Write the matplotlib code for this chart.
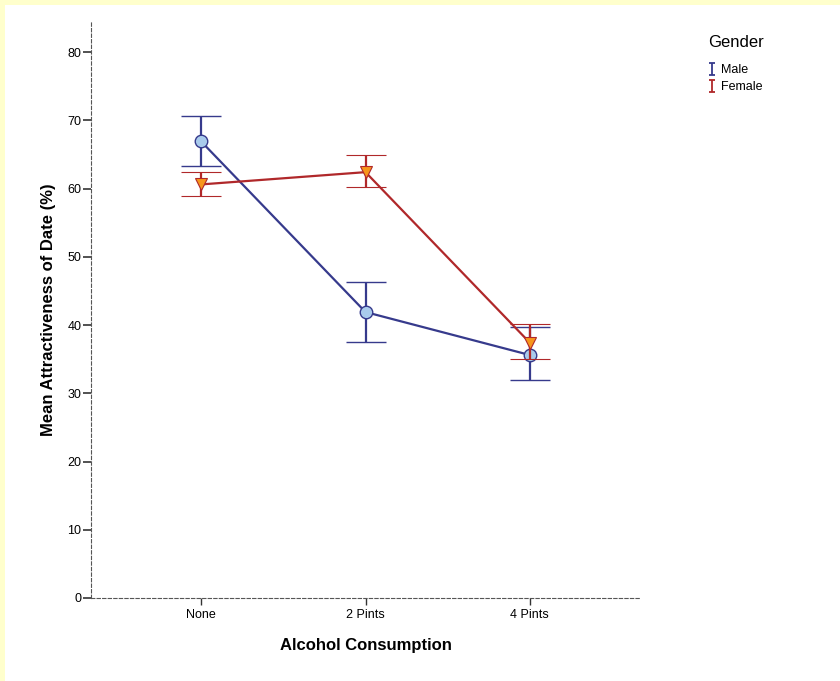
import matplotlib
matplotlib.use("Agg")
import matplotlib.pyplot as plt
from matplotlib.lines import Line2D
from matplotlib.patches import Rectangle
from matplotlib.path import Path

plt.rcParams['font.family'] = ['Liberation Sans', 'DejaVu Sans']

categories = ["None", "2 Pints", "4 Pints"]
male_mean = [66.9, 41.9, 35.6]
male_low = [63.3, 37.5, 31.9]
male_high = [70.6, 46.3, 39.7]
female_mean = [60.6, 62.4, 37.4]
female_low = [58.9, 60.2, 35.0]
female_high = [62.4, 64.9, 40.1]
yticks = [0, 10, 20, 30, 40, 50, 60, 70, 80]

male_col = '#363a8c'
female_col = '#b0282a'

fig = plt.figure(figsize=(8.4, 6.81), dpi=100, facecolor='#ffffcc')
fig.patches.append(Rectangle((5/840, 0), 1, 1 - 5/681, transform=fig.transFigure,
                             facecolor='white', edgecolor='none', zorder=-10))

ax = fig.add_axes([91/840, 83/681, 549/840, 576/681])
ax.set_facecolor('white')
x = list(range(len(categories)))

def err(mean, lo, hi):
    return [[m - l for m, l in zip(mean, lo)], [h - m for m, h in zip(mean, hi)]]

ax.errorbar(x, male_mean, yerr=err(male_mean, male_low, male_high), color=male_col,
            lw=1.6, elinewidth=1.6, capsize=14.5, capthick=2.0,
            marker='o', markersize=9, markerfacecolor='#a9cbec', markeredgecolor=male_col,
            markeredgewidth=1.0, zorder=3)
ax.errorbar(x, female_mean, yerr=err(female_mean, female_low, female_high), color=female_col,
            lw=1.6, elinewidth=1.6, capsize=14.5, capthick=2.0,
            marker='v', markersize=8.5, markerfacecolor='#f7961b', markeredgecolor=female_col,
            markeredgewidth=0.8, zorder=4)

ax.set_xlim(-0.67, 2.67)
ax.set_ylim(0, 84.4)
ax.set_xticks(x)
ax.set_xticklabels(categories, fontsize=9)
ax.set_yticks(yticks)
ax.set_yticklabels([str(v) for v in yticks], fontsize=9)
ax.tick_params(axis='y', direction='out', length=6, width=1.2, color='#333333', pad=1)
ax.tick_params(axis='x', direction='out', length=5, width=1.0, color='#333333', pad=3)

for s in ['top', 'right']:
    ax.spines[s].set_visible(False)
for s in ['left', 'bottom']:
    ax.spines[s].set_linestyle((0, (3, 2)))
    ax.spines[s].set_color('#555555')
    ax.spines[s].set_linewidth(0.8)

ax.set_xlabel("Alcohol Consumption", fontsize=12, fontweight='bold', labelpad=12)
ax.set_ylabel("Mean Attractiveness of Date (%)", fontsize=12, fontweight='bold', labelpad=8)

ibeam = Path([(-0.5, 1), (0.5, 1), (0, 1), (0, -1), (-0.5, -1), (0.5, -1)],
             [Path.MOVETO, Path.LINETO, Path.MOVETO, Path.LINETO, Path.MOVETO, Path.LINETO])
handles = [Line2D([], [], marker=ibeam, linestyle='None', color=male_col, markersize=8,
                  markerfacecolor='none', markeredgewidth=1.3),
           Line2D([], [], marker=ibeam, linestyle='None', color=female_col, markersize=8,
                  markerfacecolor='none', markeredgewidth=1.3)]
leg = fig.legend(handles, ["Male", "Female"], title="Gender", loc='upper left',
                 bbox_to_anchor=(703/840, 1 - 30/681), frameon=False, fontsize=9,
                 title_fontsize=12, handlelength=0.6, handletextpad=0.4, labelspacing=0.4,
                 alignment='left', borderaxespad=0)
leg._legend_box.sep = 10

fig.savefig("out.png", dpi=100, facecolor=fig.get_facecolor())
